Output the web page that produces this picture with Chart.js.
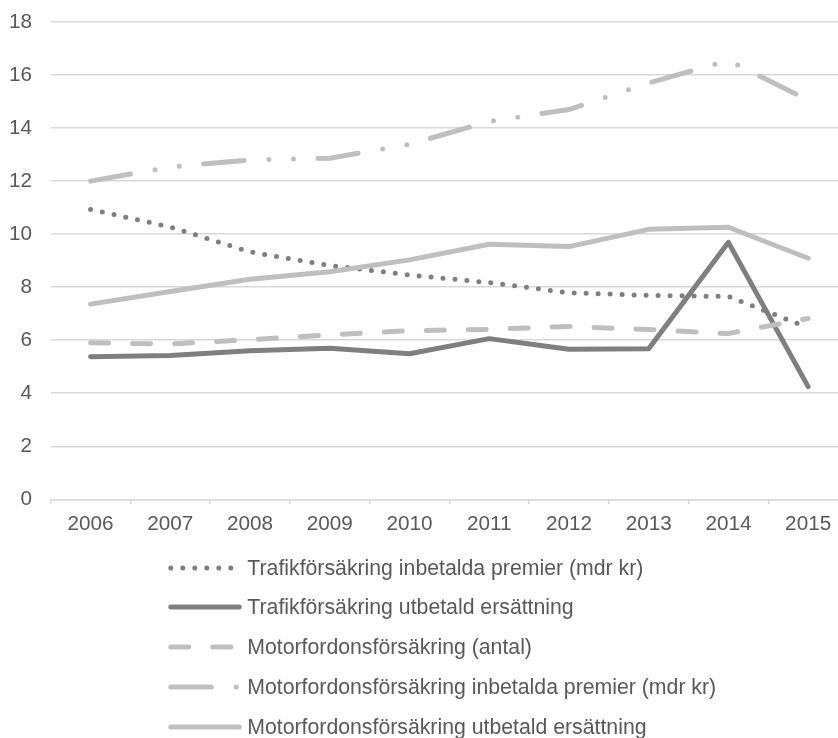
<!DOCTYPE html>
<html>
<head>
<meta charset="utf-8">
<script src="https://cdn.jsdelivr.net/npm/chart.js@4/dist/chart.umd.min.js"></script>
<style>
  html, body { margin: 0; padding: 0; background: #fff; overflow: hidden; width: 838px; height: 738px; }
  #wrap { position: absolute; left: 0; top: 0; width: 848px; height: 545px; }
  #legend { position: absolute; left: 0; top: 0; width: 838px; height: 738px;
            font-family: "Liberation Sans", Arial, sans-serif; font-size: 21.25px; color: #595959; }
  .item { position: absolute; left: 165px; height: 24px; line-height: 24px; white-space: nowrap; }
  .item canvas { position: absolute; left: 0; top: 0; }
  .item span { position: absolute; left: 82.3px; top: 0; }
</style>
</head>
<body>
<div id="wrap"><canvas id="chart" width="848" height="545"></canvas></div>
<div id="legend"></div>
<script>
// Years on the category axis
const years = ['2006', '2007', '2008', '2009', '2010', '2011', '2012', '2013', '2014', '2015'];

// Series values
const trafikPremier     = [10.93, 10.27, 9.33, 8.82, 8.46, 8.17, 7.79, 7.69, 7.65, 6.47];
const trafikErsattning  = [5.38, 5.42, 5.60, 5.70, 5.49, 6.06, 5.66, 5.68, 9.69, 4.25];
const motorAntal        = [5.90, 5.86, 6.02, 6.20, 6.36, 6.41, 6.52, 6.40, 6.25, 6.82];
const motorPremier      = [12.00, 12.53, 12.80, 12.86, 13.39, 14.25, 14.70, 15.70, 16.55, 15.05];
const motorErsattning   = [7.36, 7.84, 8.30, 8.58, 9.03, 9.62, 9.53, 10.18, 10.26, 9.09];

// Series names
const seriesNames = [
  'Trafikförsäkring inbetalda premier (mdr kr)',
  'Trafikförsäkring utbetald ersättning',
  'Motorfordonsförsäkring (antal)',
  'Motorfordonsförsäkring inbetalda premier (mdr kr)',
  'Motorfordonsförsäkring utbetald ersättning'
];

// Y axis range
const yMin = 0, yMax = 18, yStep = 2;

const DARK = '#7f7f7f';
const LIGHT = '#bfbfbf';
const TEXT = '#595959';
const GRID = '#d9d9d9';
const FAMILY = '"Liberation Sans", Arial, sans-serif';

const styles = [
  { color: DARK,  dash: [0, 12] },
  { color: DARK,  dash: [] },
  { color: LIGHT, dash: [18, 24] },
  { color: LIGHT, dash: [40.5, 25, 0, 24.5, 0, 24.5] },
  { color: LIGHT, dash: [] }
];

const values = [trafikPremier, trafikErsattning, motorAntal, motorPremier, motorErsattning];

const datasets = values.map((v, i) => ({
  label: seriesNames[i],
  data: v,
  borderColor: styles[i].color,
  backgroundColor: styles[i].color,
  borderWidth: 5,
  borderDash: styles[i].dash,
  borderCapStyle: 'round',
  borderJoinStyle: 'round',
  pointRadius: 0,
  pointHoverRadius: 0,
  tension: 0,
  fill: false,
  // later series are painted over earlier ones
  order: values.length - i
}));

const chart = new Chart(document.getElementById('chart'), {
  type: 'line',
  data: { labels: years, datasets },
  options: {
    responsive: false,
    animation: false,
    devicePixelRatio: 1,
    layout: { padding: { top: 22, left: 0, right: 0, bottom: 0 } },
    plugins: { legend: { display: false }, tooltip: { enabled: false } },
    scales: {
      x: {
        type: 'category',
        offset: true,
        grid: { offset: true, drawOnChartArea: false, drawTicks: true, tickLength: 5, color: GRID, lineWidth: 1.5 },
        border: { display: true, color: GRID, width: 1.5 },
        ticks: { color: TEXT, font: { family: FAMILY, size: 20.7 }, padding: 7.7, maxRotation: 0, autoSkip: false },
        afterFit(scale) { scale.height = 545 - 499.3; }
      },
      y: {
        min: yMin,
        max: yMax,
        grid: { color: GRID, lineWidth: 1.5, drawTicks: false },
        border: { display: false },
        ticks: { stepSize: yStep, color: TEXT, font: { family: FAMILY, size: 20.7 }, padding: 18.7 },
        afterFit(scale) {
          scale.width = 50.7;
          // the layout padding already leaves room for the end labels
          scale.paddingTop = 0;
          scale.paddingBottom = 0;
        }
      }
    }
  }
});

// Legend list below the plot, one row per series
const legend = document.getElementById('legend');
const firstRow = 567.5, rowGap = 39.85;
chart.data.datasets.forEach((ds, i) => {
  const item = document.createElement('div');
  item.className = 'item';
  item.style.top = (firstRow + i * rowGap - 12) + 'px';
  const c = document.createElement('canvas');
  c.width = 80; c.height = 24;
  const g = c.getContext('2d');
  g.strokeStyle = ds.borderColor;
  g.lineWidth = ds.borderWidth;
  g.lineCap = 'round';
  g.setLineDash(ds.borderDash);
  g.beginPath();
  g.moveTo(5.8, 12);
  g.lineTo(74.2, 12);
  g.stroke();
  const s = document.createElement('span');
  s.textContent = ds.label;
  item.appendChild(c);
  item.appendChild(s);
  legend.appendChild(item);
});
</script>
</body>
</html>
